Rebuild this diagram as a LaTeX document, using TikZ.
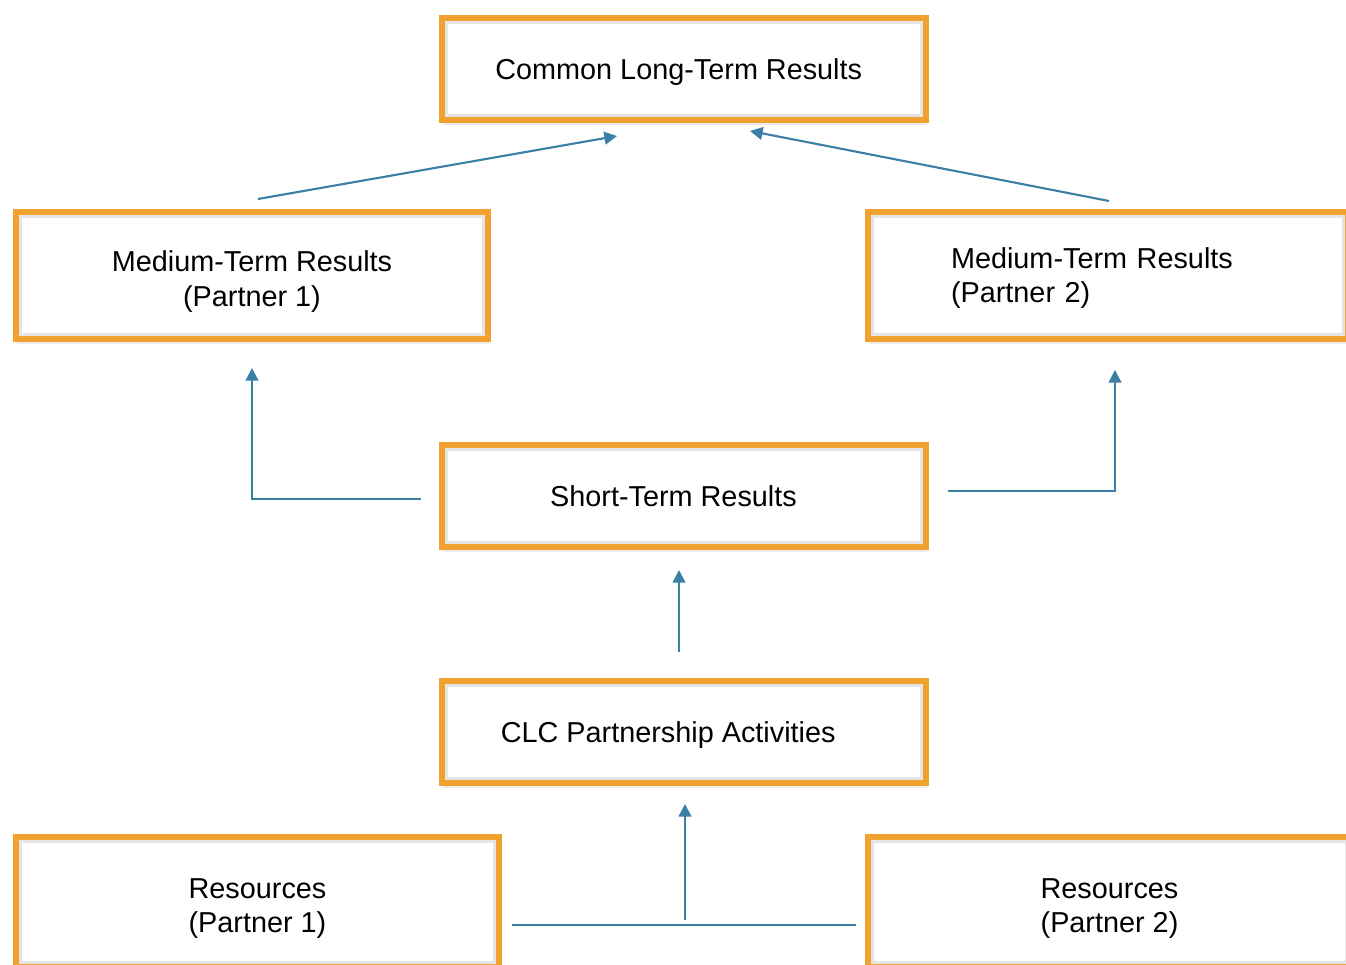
\documentclass[tikz,border=0pt]{standalone}
\usepackage{fontspec}
\setmainfont{Liberation Sans}
\usepackage{tikz}
\definecolor{boxorange}{RGB}{240,161,48}
\definecolor{linkblue}{RGB}{58,127,165}
\usetikzlibrary{arrows.meta}
\usetikzlibrary{shadows}
\pgfdeclarelayer{edgelayer}
\pgfdeclarelayer{nodelayer}
\pgfsetlayers{edgelayer,nodelayer,main}
\tikzstyle{box}=[rectangle,fill=white,draw=boxorange,line width=1.5pt,inner sep=0pt,align=center,
    font=\fontsize{8.2}{9.7}\selectfont,
    drop shadow={opacity=0.15,shadow xshift=0.4pt,shadow yshift=-1.3pt},
    path picture={\draw [black!10, line width=3.2pt] (path picture bounding box.north west) rectangle (path picture bounding box.south east);}]
\tikzstyle{link}=[linkblue,line width=0.6pt,-{Triangle[length=3.6pt,width=3.6pt]}]
\tikzstyle{bar}=[linkblue,line width=0.6pt]

\begin{document}
\begin{tikzpicture}
        \useasboundingbox (0, 0) rectangle (13.46, -9.65);
        \begin{pgfonlayer}{nodelayer}
            \node [style = box, text depth=0pt, minimum width=4.84cm, minimum height=1.02cm] (longterm) at (6.84, -0.69) {Common Long-Term Results\hspace*{3pt}};

            \node [style = box, text height=17.4pt, text depth=0pt, minimum width=4.72cm, minimum height=1.27cm] (medium1) at (2.52, -2.755) {Medium-Term Results\\(Partner 1)};
            \node [style = box, text depth=9.7pt, text width=3.14cm, inner xsep=0.83cm, align=left, minimum height=1.27cm] (medium2) at (11.08, -2.755) {Medium-Term Results\\(Partner 2)};

            \node [style = box, text depth=0pt, minimum width=4.84cm, minimum height=1.02cm] (shortterm) at (6.84, -4.96) {Short-Term Results\hspace*{6pt}};
            \node [style = box, text depth=0pt, minimum width=4.84cm, minimum height=1.02cm] (activities) at (6.84, -7.32) {CLC Partnership Activities\hspace*{9pt}};

            \node [style = box, text height=17.4pt, text depth=0pt, minimum width=4.83cm, minimum height=1.30cm] (resources1) at (2.575, -9.02) {Resources\\(Partner 1)};
            \node [style = box, text height=17.4pt, text depth=0pt, minimum width=4.83cm, minimum height=1.30cm] (resources2) at (11.095, -9.02) {Resources\\(Partner 2)};

            % connector ends
            \coordinate (m1out) at (2.58, -1.99);
            \coordinate (ltin1) at (6.17, -1.36);
            \coordinate (m2out) at (11.09, -2.01);
            \coordinate (ltin2) at (7.50, -1.31);
            \coordinate (stleft) at (4.21, -4.99);
            \coordinate (m1in) at (2.52, -3.68);
            \coordinate (stright) at (9.48, -4.91);
            \coordinate (m2in) at (11.15, -3.70);
            \coordinate (actout) at (6.79, -6.52);
            \coordinate (stin) at (6.79, -5.70);
            \coordinate (r1out) at (5.12, -9.25);
            \coordinate (r2out) at (8.56, -9.25);
            \coordinate (joint) at (6.85, -9.20);
            \coordinate (actin) at (6.85, -8.04);
        \end{pgfonlayer}

        \begin{pgfonlayer}{edgelayer}
            \draw [style = link] (m1out) to (ltin1);
            \draw [style = link] (m2out) to (ltin2);

            \draw [style = link] (stleft) -| (m1in);
            \draw [style = link] (stright) -| (m2in);

            \draw [style = link] (actout) to (stin);

            \draw [style = bar] (r1out) to (r2out);
            \draw [style = link] (joint) to (actin);
        \end{pgfonlayer}
    \end{tikzpicture}
\end{document}
